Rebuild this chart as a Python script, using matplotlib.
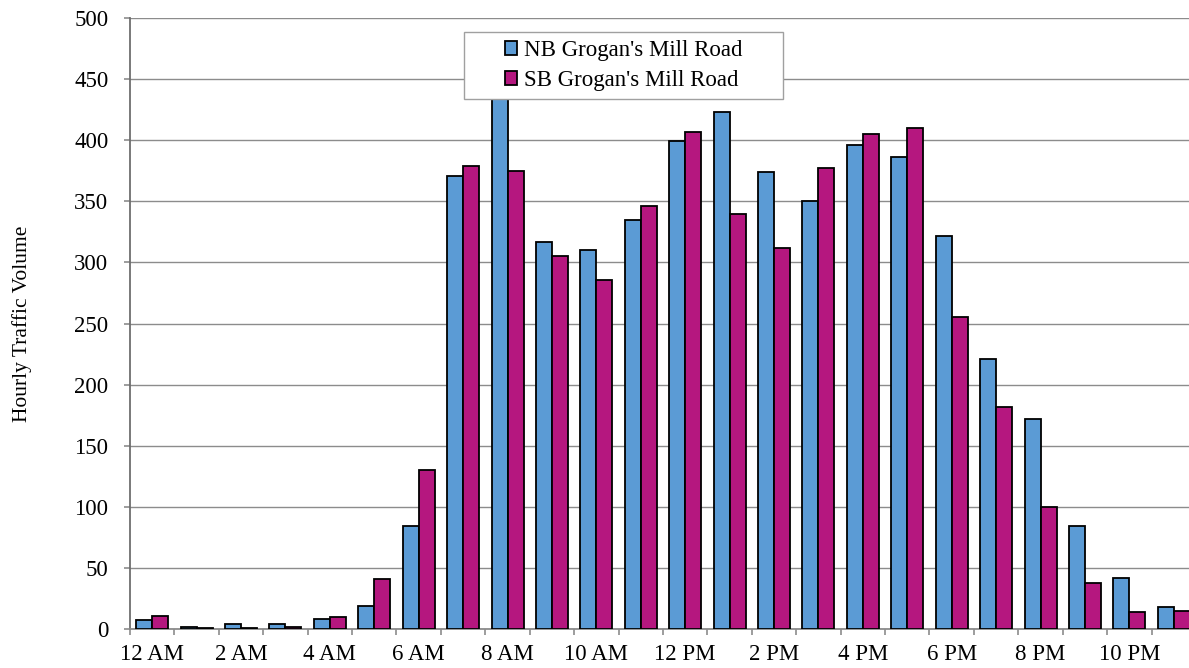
import matplotlib
matplotlib.use("Agg")
import matplotlib.pyplot as plt
from matplotlib.patches import Rectangle
import numpy as np

plt.rcParams["font.family"] = ["Liberation Serif", "DejaVu Serif"]

# hourly counts, midnight through 11 PM
hours = ["12 AM", "1 AM", "2 AM", "3 AM", "4 AM", "5 AM", "6 AM", "7 AM",
         "8 AM", "9 AM", "10 AM", "11 AM", "12 PM", "1 PM", "2 PM", "3 PM",
         "4 PM", "5 PM", "6 PM", "7 PM", "8 PM", "9 PM", "10 PM", "11 PM"]
nb_volume = [7, 2, 4, 4, 8, 19, 84, 371, 460, 317, 310, 335,
             399, 423, 374, 350, 396, 386, 322, 221, 172, 84, 42, 18]
sb_volume = [11, 1, 1, 2, 10, 41, 130, 379, 375, 305, 286, 346,
             407, 340, 312, 377, 405, 410, 255, 182, 100, 38, 14, 15]

NB_COLOR = "#5b9bd5"
SB_COLOR = "#b5177f"
FS = 16.5

fig = plt.figure(figsize=(11.89, 6.68), dpi=100)
ax = fig.add_axes([130 / 1189, 39 / 668, 1066 / 1189, 611 / 668])

x = np.arange(len(hours))
w = 0.36
ax.bar(x - w / 2, nb_volume, w, color=NB_COLOR, edgecolor="black",
       linewidth=1.3, label="NB Grogan's Mill Road", zorder=3)
ax.bar(x + w / 2, sb_volume, w, color=SB_COLOR, edgecolor="black",
       linewidth=1.3, label="SB Grogan's Mill Road", zorder=3)

ax.set_xlim(-0.5, len(hours) - 0.5)
ax.set_ylim(0, 500)
ax.set_yticks(np.arange(0, 501, 50))
ax.yaxis.grid(True, color="#8c8c8c", linewidth=1.0, zorder=0)

# labels every other hour, tick marks on the category boundaries
ax.set_xticks(x[::2])
ax.set_xticklabels(hours[::2])
ax.set_xticks(np.arange(-0.5, len(hours), 1), minor=True)
ax.tick_params(axis="x", which="major", length=0, pad=11, labelsize=FS)
ax.tick_params(axis="x", which="minor", length=4.5, color="#8c8c8c", width=1.2)
ax.tick_params(axis="y", length=4.5, color="#8c8c8c", width=1.2,
               labelsize=FS, pad=11)

for side in ("top", "right"):
    ax.spines[side].set_visible(False)
ax.spines["left"].set_color("#6e6e6e")
ax.spines["left"].set_linewidth(1.3)
ax.spines["bottom"].set_color("#8c8c8c")
ax.spines["bottom"].set_linewidth(1.3)

ax.set_ylabel("Hourly Traffic Volume", fontsize=15.5)
ax.yaxis.set_label_coords(-0.092, 0.5)

# fixed-size legend box with the entries centred inside it
box = (0.3133, 0.8674, 0.2993, 0.1096)
ax.add_patch(Rectangle(box[:2], box[2], box[3], transform=ax.transAxes,
                       facecolor="white", edgecolor="#a0a0a0",
                       linewidth=1.0, zorder=5))
leg = ax.legend(loc="center", bbox_to_anchor=(box[0] + box[2] / 2,
                                              box[1] + box[3] / 2),
                frameon=False, fontsize=FS, handlelength=0.55,
                handleheight=0.55, handletextpad=0.28, borderpad=0,
                labelspacing=0.4)
leg.set_zorder(6)

fig.savefig("out.png", dpi=100)
